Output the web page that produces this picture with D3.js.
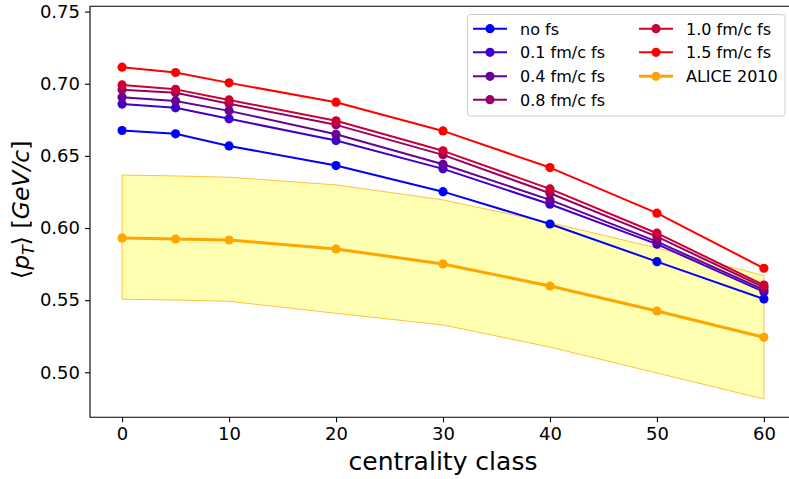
<!DOCTYPE html>
<html>
<head>
<meta charset="utf-8">
<script src="https://cdn.jsdelivr.net/npm/d3@7"></script>
<style>
  html, body { margin: 0; padding: 0; background: #fff; }
  svg { display: block; font-family: "DejaVu Sans", sans-serif; }
</style>
</head>
<body>
<svg id="chart" width="789" height="479"></svg>
<script>
// Centrality classes (%)
const centrality = [0, 5, 10, 20, 30, 40, 50, 60];

// Mean transverse momentum <pT> [GeV/c] for each free-streaming time
const noFs   = [0.6676, 0.6653, 0.6569, 0.6433, 0.6252, 0.6028, 0.5767, 0.5508];
const fs01   = [0.6859, 0.6833, 0.6757, 0.6606, 0.6410, 0.6165, 0.5888, 0.5557];
const fs04   = [0.6907, 0.6881, 0.6812, 0.6650, 0.6442, 0.6195, 0.5906, 0.5571];
const fs08   = [0.6958, 0.6937, 0.6861, 0.6715, 0.6507, 0.6241, 0.5940, 0.5589];
const fs10   = [0.6992, 0.6961, 0.6888, 0.6743, 0.6535, 0.6271, 0.5964, 0.5605];
const fs15   = [0.7115, 0.7078, 0.7006, 0.6872, 0.6673, 0.6419, 0.6103, 0.5721];

// ALICE 2010 measurement and its uncertainty band
const alice      = [0.5931, 0.5924, 0.5917, 0.5855, 0.5751, 0.5598, 0.5425, 0.5243];
const aliceLow   = [0.5506, 0.5501, 0.5492, 0.5409, 0.5328, 0.5175, 0.4995, 0.4815];
const aliceHigh  = [0.6367, 0.6361, 0.6352, 0.6299, 0.6195, 0.6037, 0.5862, 0.5670];

const seriesNames  = ["no fs", "0.1 fm/c fs", "0.4 fm/c fs", "0.8 fm/c fs", "1.0 fm/c fs", "1.5 fm/c fs", "ALICE 2010"];
const seriesValues = [noFs, fs01, fs04, fs08, fs10, fs15, alice];
const seriesColors = ["#0000ff", "#4000cc", "#660099", "#990066", "#cc0033", "#ff0000", "#ffa500"];

const xTicks = [0, 10, 20, 30, 40, 50, 60];
const yTicks = [0.50, 0.55, 0.60, 0.65, 0.70, 0.75];

const svg = d3.select("#chart");
const plotLeft = 90, plotTop = 6.3, plotBottom = 417.3, plotRight = 796;

const x = d3.scaleLinear().domain([-3, 63]).range([plotLeft, plotRight]);
const y = d3.scaleLinear().domain([0.46881, 0.75367]).range([plotBottom, plotTop]);

// Uncertainty band
const band = d3.area()
  .x((d, i) => x(centrality[i]))
  .y0((d, i) => y(aliceLow[i]))
  .y1((d, i) => y(aliceHigh[i]));
svg.append("path")
  .datum(aliceLow)
  .attr("d", band)
  .attr("fill", "#ffff00")
  .attr("fill-opacity", 0.3)
  .attr("stroke", "#ffa500")
  .attr("stroke-opacity", 0.7)
  .attr("stroke-width", 1);

// Lines and markers
const line = d3.line().x((d, i) => x(centrality[i])).y(d => y(d));
seriesValues.forEach((vals, k) => {
  const g = svg.append("g");
  g.append("path")
    .datum(vals)
    .attr("d", line)
    .attr("fill", "none")
    .attr("stroke", seriesColors[k])
    .attr("stroke-width", k === 6 ? 3 : 2)
    .attr("stroke-linejoin", "round");
  g.selectAll("circle")
    .data(vals)
    .join("circle")
    .attr("cx", (d, i) => x(centrality[i]))
    .attr("cy", d => y(d))
    .attr("r", 4.6)
    .attr("fill", seriesColors[k]);
});

// Axes
const xAxis = d3.axisBottom(x).tickValues(xTicks).tickFormat(d3.format("d")).tickSize(5).tickPadding(5);
const yAxis = d3.axisLeft(y).tickValues(yTicks).tickFormat(d3.format(".2f")).tickSize(5).tickPadding(5);

const gx = svg.append("g").attr("transform", `translate(0,${plotBottom})`).call(xAxis);
const gy = svg.append("g").attr("transform", `translate(${plotLeft},0)`).call(yAxis);
[gx, gy].forEach(g => {
  g.select(".domain").remove();
  g.selectAll(".tick line").attr("stroke", "#000").attr("stroke-width", 1.1);
  g.selectAll(".tick text").attr("fill", "#000").style("font-size", "18px").style("font-family", "DejaVu Sans, sans-serif");
});

// Frame (left, bottom, top)
svg.append("path")
  .attr("d", `M${plotRight},${plotTop}H${plotLeft}V${plotBottom}H${plotRight}`)
  .attr("fill", "none")
  .attr("stroke", "#000")
  .attr("stroke-width", 1.1);

// Axis titles
svg.append("text")
  .attr("x", (plotLeft + plotRight) / 2)
  .attr("y", 470)
  .attr("text-anchor", "middle")
  .style("font-size", "25px")
  .text("centrality class");

const yl = svg.append("text")
  .attr("transform", `translate(29,${(plotTop + plotBottom) / 2 - 2}) rotate(-90)`)
  .attr("text-anchor", "middle")
  .style("font-size", "23.5px");
yl.append("tspan").text("\u27E8");
yl.append("tspan").style("font-style", "italic").text("p");
yl.append("tspan").style("font-style", "italic").style("font-size", "16px").attr("dy", 5).text("T");
yl.append("tspan").attr("dy", -5).text("\u27E9 [");
yl.append("tspan").style("font-style", "italic").text("GeV/c");
yl.append("tspan").text("]");

// Legend
const lg = svg.append("g");
lg.append("rect")
  .attr("x", 467.5).attr("y", 14.5)
  .attr("width", 317.5).attr("height", 101.5)
  .attr("rx", 3)
  .attr("fill", "#fff").attr("fill-opacity", 0.8)
  .attr("stroke", "#cccccc").attr("stroke-width", 1);
const rowY = [28.7, 52.3, 76.3, 99.7];
seriesNames.forEach((name, k) => {
  const col = k < 4 ? 0 : 1;
  const row = k < 4 ? k : k - 4;
  const x0 = col === 0 ? 473 : 639;
  const yy = rowY[row];
  lg.append("line")
    .attr("x1", x0).attr("x2", x0 + 34)
    .attr("y1", yy).attr("y2", yy)
    .attr("stroke", seriesColors[k])
    .attr("stroke-width", k === 6 ? 3 : 2);
  lg.append("circle")
    .attr("cx", x0 + 17).attr("cy", yy).attr("r", 4.6)
    .attr("fill", seriesColors[k]);
  lg.append("text")
    .attr("x", x0 + 47).attr("y", yy + 6)
    .style("font-size", "16px")
    .text(name);
});
</script>
</body>
</html>
